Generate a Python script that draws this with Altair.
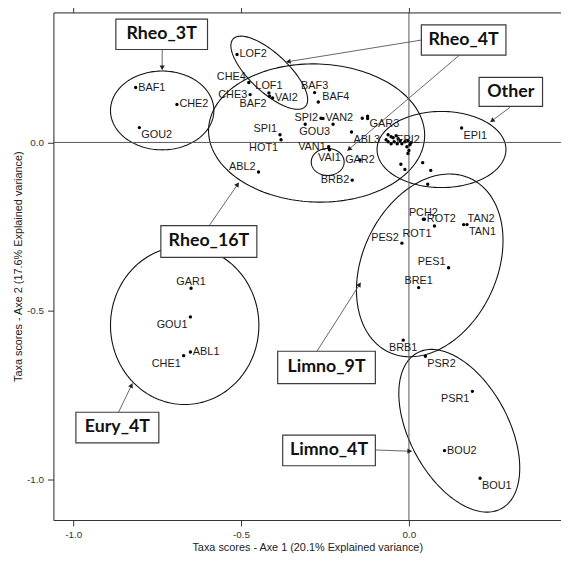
import math
import numpy as np
import pandas as pd
import altair as alt

# ---------------- data ----------------
taxa = ["BAF1", "CHE2", "GOU2", "LOF2", "CHE4", "LOF1", "CHE3", "BAF2", "VAI2", "BAF3",
        "BAF4", "SPI2", "VAN2", "GOU3", "GAR3", "ABL3", "SPI1", "HOT1", "VAN1", "VAI1",
        "GAR2", "BRB2", "ABL2", "EPI2", "EPI1", "PCH2", "ROT2", "ROT1", "TAN2", "TAN1",
        "PES2", "PES1", "BRE1", "BRB1", "PSR2", "PSR1", "BOU2", "BOU1", "GAR1", "GOU1",
        "ABL1", "CHE1"]
axe1 = [-0.814, -0.691, -0.803, -0.512, -0.477, -0.417, -0.473, -0.415, -0.406, -0.281,
        -0.270, -0.262, -0.256, -0.226, -0.123, -0.171, -0.384, -0.381, -0.239, -0.237,
        -0.146, -0.169, -0.448, -0.003, 0.157, 0.043, 0.046, 0.076, 0.163, 0.173,
        -0.021, 0.118, 0.029, -0.017, 0.049, 0.189, 0.106, 0.212, -0.649, -0.651,
        -0.651, -0.671]
axe2 = [0.163, 0.113, 0.044, 0.261, 0.178, 0.147, 0.142, 0.137, 0.132, 0.148,
        0.120, 0.072, 0.071, 0.054, 0.078, 0.031, 0.023, 0.008, -0.013, -0.022,
        -0.052, -0.112, -0.088, 0.006, 0.043, -0.228, -0.228, -0.248, -0.244, -0.244,
        -0.299, -0.372, -0.431, -0.587, -0.635, -0.739, -0.915, -0.997, -0.433, -0.518,
        -0.622, -0.633]
# label side, R "pos"-like codes
label_pos = ["r", "r", "br", "r", "tl", "t", "l", "bl", "r", "t",
             "tr", "l", "r", "bl", "br", "br", "tl", "bl", "l", "b",
             "c", "l", "tl", "c", "br", "t", "r", "bl", "tr", "br",
             "tl", "tl", "t", "b", "br", "bl", "r", "br", "t", "bl",
             "r", "bl"]

# unlabeled taxa (mostly the dense cluster near the origin)
extra_axe1 = [-0.309, -0.139, -0.123, -0.062, -0.053, -0.047, -0.038, -0.032, -0.068, -0.062,
              -0.053, -0.044, -0.035, -0.026, -0.021, -0.012, 0.006, 0.003, -0.006, 0.000,
              -0.003, -0.024, -0.012, 0.041, 0.065, 0.056]
extra_axe2 = [0.054, 0.072, 0.071, 0.023, 0.017, 0.014, 0.020, 0.011, 0.008, 0.002,
              -0.004, 0.002, -0.004, 0.005, -0.004, 0.002, -0.001, -0.007, -0.013, -0.024,
              -0.033, -0.065, -0.080, -0.060, -0.083, -0.124]

# group ellipses: center, semi-axes, rotation (degrees)
ell_name = ["Rheo_3T", "Rheo_16T", "Rheo_4T_a", "Rheo_4T_b", "Other", "Limno_9T", "Limno_4T", "Eury_4T"]
ell_cx = [-0.735, -0.275, -0.416, -0.242, 0.097, 0.062, 0.150, -0.668]
ell_cy = [0.095, 0.028, 0.207, -0.058, -0.021, -0.365, -0.856, -0.543]
ell_a = [0.154, 0.322, 0.147, 0.049, 0.192, 0.285, 0.263, 0.221]
ell_b = [0.117, 0.205, 0.057, 0.040, 0.113, 0.200, 0.147, 0.235]
ell_angle = [0, -2, -43, 0, 0, 64.5, -61.5, 0]

# group boxes
box_text = ["Rheo_3T", "Rheo_4T", "Other", "Rheo_16T", "Limno_9T", "Eury_4T", "Limno_4T"]
box_x1 = [-0.873, 0.037, 0.209, -0.739, -0.391, -0.992, -0.376]
box_x2 = [-0.600, 0.289, 0.398, -0.453, -0.100, -0.745, -0.100]
box_y1 = [0.276, 0.259, 0.107, -0.341, -0.716, -0.892, -0.960]
box_y2 = [0.366, 0.349, 0.193, -0.247, -0.620, -0.801, -0.869]

# arrows from boxes to ellipses
arr_x1 = [-0.735, 0.037, 0.150, 0.302, -0.595, -0.274, -0.865, -0.100]
arr_y1 = [0.275, 0.304, 0.259, 0.105, -0.247, -0.620, -0.801, -0.913]
arr_x2 = [-0.735, -0.365, -0.183, 0.243, -0.507, -0.144, -0.824, 0.008]
arr_y2 = [0.216, 0.239, -0.024, 0.061, -0.120, -0.417, -0.716, -0.917]

# ---------------- tables ----------------
pts = pd.DataFrame({"x": axe1 + extra_axe1, "y": axe2 + extra_axe2,
                    "taxon": taxa + [""] * len(extra_axe1),
                    "pos": label_pos + ["none"] * len(extra_axe1)})

rows = []
t = np.linspace(0, 2 * np.pi, 181)
for n, cx, cy, a, b, ang in zip(ell_name, ell_cx, ell_cy, ell_a, ell_b, ell_angle):
    th = math.radians(ang)
    xs_ = cx + a * np.cos(t) * math.cos(th) - b * np.sin(t) * math.sin(th)
    ys_ = cy + a * np.cos(t) * math.sin(th) + b * np.sin(t) * math.cos(th)
    for i, (xx, yy) in enumerate(zip(xs_, ys_)):
        rows.append({"name": n, "i": i, "x": float(xx), "y": float(yy)})
ell = pd.DataFrame(rows)

boxes = pd.DataFrame({"text": box_text, "x1": box_x1, "x2": box_x2, "y1": box_y1, "y2": box_y2})
boxes["xc"] = (boxes.x1 + boxes.x2) / 2
boxes["yc"] = (boxes.y1 + boxes.y2) / 2

arr = pd.DataFrame({"x1": arr_x1, "y1": arr_y1, "x2": arr_x2, "y2": arr_y2})
dx = arr.x2 - arr.x1
dy = arr.y2 - arr.y1
ln = np.sqrt(dx ** 2 + dy ** 2)
arr["ang"] = (np.degrees(np.arctan2(dx, dy)) + 360) % 360
arr["hx"] = arr.x2 - 0.008 * dx / ln
arr["hy"] = arr.y2 - 0.008 * dy / ln

# ---------------- chart ----------------
FONT = "Liberation Sans"
X_DOMAIN = [-1.059, 0.453]
Y_DOMAIN = [-1.121, 0.386]
xs = alt.Scale(domain=X_DOMAIN, nice=False, zero=False)
ys = alt.Scale(domain=Y_DOMAIN, nice=False, zero=False)
minus_fix = "replace(format(datum.value, '.1f'), '\u2212', '-')"

x_bottom = alt.Axis(orient="bottom", values=[-1.0, -0.5, 0.0], labelExpr=minus_fix,
                    title="Taxa scores - Axe 1 (20.1% Explained variance)", grid=False,
                    tickSize=6, labelPadding=4, labelFont=FONT, labelFontSize=10,
                    labelColor="#333333", titleFont=FONT, titleFontSize=11,
                    titleFontWeight="normal", titleColor="#222222", titlePadding=2,
                    domainColor="#333333", tickColor="#333333")
y_left = alt.Axis(orient="left", values=[-1.0, -0.5, 0.0], labelExpr=minus_fix,
                  title="Taxa scores - Axe 2 (17.6% Explained variance)", grid=False,
                  tickSize=6, labelPadding=4, labelFont=FONT, labelFontSize=10,
                  labelColor="#333333", titleFont=FONT, titleFontSize=11,
                  titleFontWeight="normal", titleColor="#222222", titlePadding=3,
                  domainColor="#333333", tickColor="#333333")
x_top = alt.Axis(orient="top", values=[-1.0, -0.5, 0.0], labels=False, title=None, grid=False,
                 tickSize=5, domainColor="#333333", tickColor="#333333")

dots = alt.Chart(pts).mark_circle(color="#000000", size=12, opacity=1).encode(
    x=alt.X("x:Q", scale=xs, axis=x_bottom),
    y=alt.Y("y:Q", scale=ys, axis=y_left),
)

ellipses = alt.Chart(ell).mark_line(color="#111111", strokeWidth=1.1, clip=True).encode(
    x=alt.X("x:Q", scale=xs, axis=x_top),
    y=alt.Y("y:Q", scale=ys, axis=None),
    detail="name:N",
    order="i:Q",
)

zero_h = alt.Chart(pd.DataFrame({"v": [0.0]})).mark_rule(color="#555555", strokeWidth=1).encode(
    y=alt.Y("v:Q", scale=ys, axis=None))
zero_v = alt.Chart(pd.DataFrame({"v": [0.0]})).mark_rule(color="#555555", strokeWidth=1).encode(
    x=alt.X("v:Q", scale=xs, axis=None))

arrows = alt.Chart(arr).mark_rule(color="#555555", strokeWidth=0.9).encode(
    x=alt.X("x1:Q", scale=xs, axis=None), y=alt.Y("y1:Q", scale=ys, axis=None),
    x2="x2:Q", y2="y2:Q")
heads = alt.Chart(arr).mark_point(shape="triangle", filled=True, color="#222222", size=28,
                                  opacity=1).encode(
    x=alt.X("hx:Q", scale=xs, axis=None), y=alt.Y("hy:Q", scale=ys, axis=None),
    angle=alt.Angle("ang:Q", scale=None))

pos_style = {
    "r": dict(align="left", dx=2.5, dy=0),
    "l": dict(align="right", dx=-3, dy=0),
    "t": dict(align="center", dx=0, dy=-6.5),
    "b": dict(align="center", dx=0, dy=8),
    "tl": dict(align="right", dx=-3, dy=-5.5),
    "tr": dict(align="left", dx=4, dy=-5.5),
    "bl": dict(align="right", dx=-3, dy=8),
    "br": dict(align="left", dx=2, dy=8),
    "c": dict(align="center", dx=0, dy=0),
}
label_layers = []
for code, st in pos_style.items():
    label_layers.append(
        alt.Chart(pts).transform_filter(alt.datum.pos == code).mark_text(
            font=FONT, fontSize=11, color="#1a1a1a", baseline="middle", **st).encode(
            x=alt.X("x:Q", scale=xs, axis=None), y=alt.Y("y:Q", scale=ys, axis=None),
            text="taxon:N"))

rects = alt.Chart(boxes).mark_rect(fill="white", stroke="#3a3a3a", strokeWidth=1.2).encode(
    x=alt.X("x1:Q", scale=xs, axis=None), x2="x2:Q",
    y=alt.Y("y1:Q", scale=ys, axis=None), y2="y2:Q")
rect_text = alt.Chart(boxes).mark_text(font="Lato", fontWeight="bold", fontSize=18,
                                       color="#111111", baseline="middle", align="center").encode(
    x=alt.X("xc:Q", scale=xs, axis=None), y=alt.Y("yc:Q", scale=ys, axis=None), text="text:N")

chart = alt.layer(ellipses, zero_h, zero_v, arrows, heads, dots, *label_layers,
                  rects, rect_text).resolve_axis(x="independent", y="independent").properties(
    width=514, height=514,
    autosize=alt.AutoSizeParams(type="none"),
    padding={"left": 46, "top": 1, "right": 0, "bottom": 36},
).configure_view(stroke=None).configure(background="white")

chart.save("out.html", embed_options={"renderer": "svg", "actions": False})
